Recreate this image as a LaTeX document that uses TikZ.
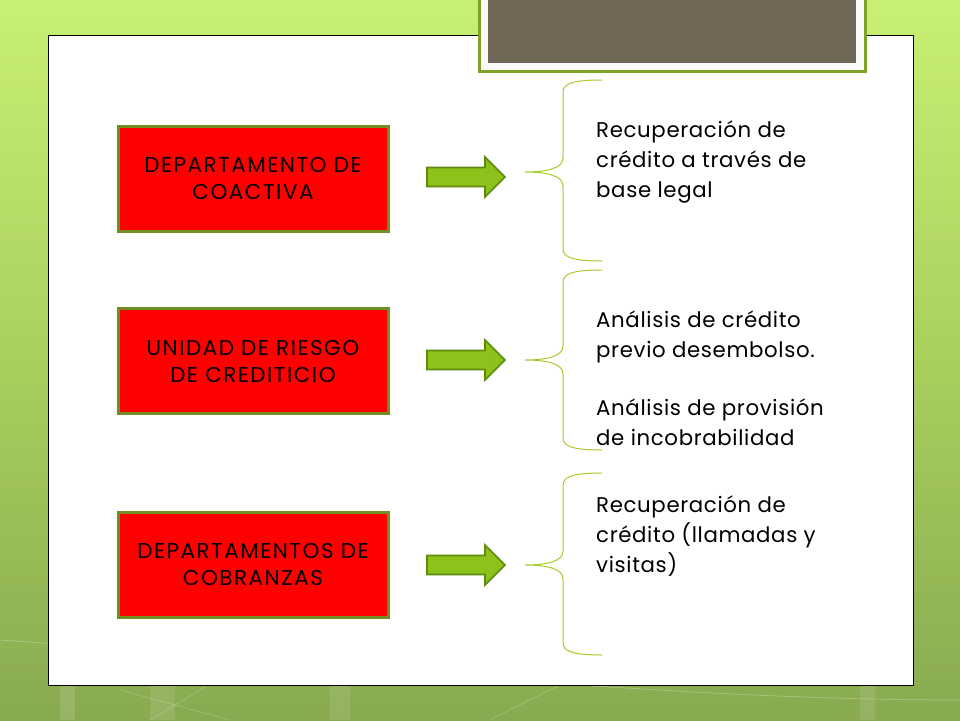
\documentclass[tikz,border=0pt]{standalone}
\usepackage{fontspec}
\setmainfont{Poppins}
\newfontfamily\boxfont[LetterSpace=7]{Poppins}
\newfontfamily\descfont[LetterSpace=3]{Poppins}
\usetikzlibrary{positioning}
\definecolor{bgtop}{HTML}{C8F072}
\definecolor{bgmid}{HTML}{A9CF5E}
\definecolor{bgbot}{HTML}{88AA50}
\definecolor{boxborder}{HTML}{6F9020}
\definecolor{arrfill}{HTML}{8DC21A}
\definecolor{arrdraw}{HTML}{5E8A0E}
\definecolor{bracecol}{HTML}{A6CC2E}
\definecolor{titlegray}{HTML}{716756}
\definecolor{titlegreen}{HTML}{7EA324}
\tikzset{
  redbox/.style={draw=boxborder, line width=3pt, fill=red, minimum width=270pt, minimum height=105pt,
    align=center, font=\boxfont\fontsize{21.5}{27}\selectfont, text=black, inner sep=0pt},
  fatarrow/.style={fill=arrfill, draw=arrdraw, line width=1.6pt, line join=miter},
  bracepath/.style={draw=bracecol, line width=1pt},
  desc/.style={anchor=base west, align=left, font=\descfont\fontsize{21.3}{30}\selectfont, text=black, inner sep=0pt}
}
\begin{document}
\begin{tikzpicture}[x=1pt,y=-1pt]
\useasboundingbox (0,0) rectangle (960,720);
% background
\shade[top color=bgtop, bottom color=bgbot, middle color=bgmid] (0,0) rectangle (960,720);
\fill[white, opacity=0.12] (60,720) -- (60,560) -- (75,560) -- (75,720) -- cycle;
\fill[white, opacity=0.10] (150,720) rectangle (175,685);
\fill[white, opacity=0.10] (330,720) rectangle (350,685);
\fill[white, opacity=0.10] (860,720) rectangle (875,685);
\draw[white, opacity=0.25, line width=0.8pt] (0,640) .. controls (300,660) and (650,700) .. (960,700);
\draw[white, opacity=0.2, line width=0.8pt] (150,720) -- (250,660);
\draw[white, opacity=0.2, line width=0.8pt] (490,720) -- (560,685);
\draw[white, opacity=0.2, line width=0.8pt] (230,720) -- (120,690);
% white panel
\draw[fill=white, line width=1pt] (48,35) rectangle (913,685);
% title box
\fill[titlegreen] (478,0) rectangle (867,73);
\fill[white!95!gray] (481,0) rectangle (864,70);
\fill[titlegray] (488,0) rectangle (856,63);
% red boxes
\node[redbox] (b1) at (253,178.5) {DEPARTAMENTO DE\\COACTIVA};
\node[redbox] (b2) at (253,361) {UNIDAD DE RIESGO\\DE CREDITICIO};
\node[redbox] (b3) at (253,564.5) {DEPARTAMENTOS DE\\COBRANZAS};
% arrows
\foreach \c in {177,360,565}{
  \path[fatarrow] (427,\c-9.5) -- (485,\c-9.5) -- (485,\c-20) -- (505,\c) -- (485,\c+20) -- (485,\c+9.5) -- (427,\c+9.5) -- cycle;
}
% braces
\foreach \t/\m/\b in {80/172/261, 270/360/450, 473/565/655}{
  \draw[bracepath] (602,\t) .. controls (575,\t) and (563,\t+3) .. (563,\t+12)
    -- (563,\m-14) .. controls (563,\m-3) and (545,\m) .. (525,\m)
    .. controls (545,\m) and (563,\m+3) .. (563,\m+14)
    -- (563,\b-12) .. controls (563,\b-3) and (575,\b) .. (602,\b);
}
% descriptions (anchored at the baseline of their last line)
\node[desc] (d1) at (596,197) {Recuperación de\\crédito a través de\\base legal};
\node[desc] (d2) at (596,357) {Análisis de crédito\\previo desembolso.};
\node[desc] (d3) at (596,445) {Análisis de provisión\\de incobrabilidad};
\node[desc] (d4) at (596,572) {Recuperación de\\crédito (llamadas y\\visitas)};
\end{tikzpicture}
\end{document}
